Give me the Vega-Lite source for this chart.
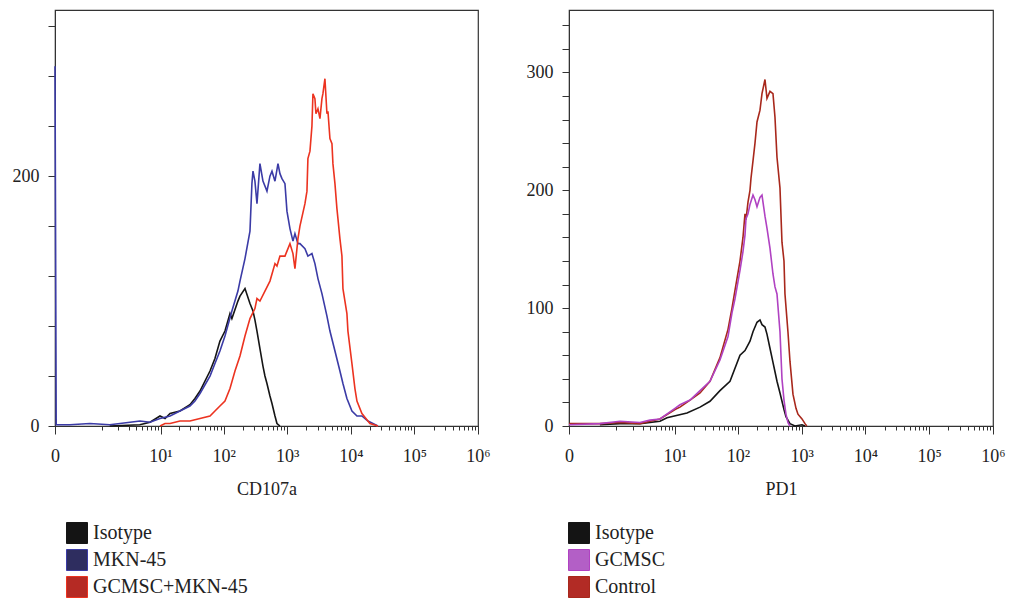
{
  "$schema": "https://vega.github.io/schema/vega-lite/v6.json",
  "padding": {"top": 9, "left": 11, "right": 0, "bottom": 0},
  "background": "white",
  "spacing": 34,
  "datasets": {
    "left": [
      {"s": "Isotype", "x": 1.4, "c": 0}, {"s": "Isotype", "x": 4.6, "c": 1}, {"s": "Isotype", "x": 6.75, "c": 3}, {"s": "Isotype", "x": 9.8, "c": 8}, {"s": "Isotype", "x": 11.8, "c": 6}, {"s": "Isotype", "x": 14.2, "c": 10}, {"s": "Isotype", "x": 20.4, "c": 12}, {"s": "Isotype", "x": 29.4, "c": 17}, {"s": "Isotype", "x": 35.3, "c": 22}, {"s": "Isotype", "x": 42.4, "c": 28}, {"s": "Isotype", "x": 61, "c": 44}, {"s": "Isotype", "x": 73, "c": 54}, {"s": "Isotype", "x": 87.5, "c": 68}, {"s": "Isotype", "x": 105, "c": 76}, {"s": "Isotype", "x": 126, "c": 90}, {"s": "Isotype", "x": 135, "c": 86}, {"s": "Isotype", "x": 168, "c": 100}, {"s": "Isotype", "x": 181, "c": 104}, {"s": "Isotype", "x": 217, "c": 110}, {"s": "Isotype", "x": 260, "c": 98}, {"s": "Isotype", "x": 290, "c": 92}, {"s": "Isotype", "x": 311, "c": 85}, {"s": "Isotype", "x": 335, "c": 76}, {"s": "Isotype", "x": 373, "c": 62}, {"s": "Isotype", "x": 416, "c": 48}, {"s": "Isotype", "x": 447, "c": 40}, {"s": "Isotype", "x": 481, "c": 34}, {"s": "Isotype", "x": 536, "c": 24}, {"s": "Isotype", "x": 577, "c": 18}, {"s": "Isotype", "x": 643, "c": 8}, {"s": "Isotype", "x": 691, "c": 2}, {"s": "Isotype", "x": 770, "c": 0},
      {"s": "MKN-45", "x": 0, "c": 288}, {"s": "MKN-45", "x": 0.01, "c": 1}, {"s": "MKN-45", "x": 0.16, "c": 1}, {"s": "MKN-45", "x": 0.57, "c": 2}, {"s": "MKN-45", "x": 1.4, "c": 1}, {"s": "MKN-45", "x": 2.13, "c": 2}, {"s": "MKN-45", "x": 4.63, "c": 4}, {"s": "MKN-45", "x": 6.75, "c": 3}, {"s": "MKN-45", "x": 9.8, "c": 6}, {"s": "MKN-45", "x": 14.2, "c": 8}, {"s": "MKN-45", "x": 20.4, "c": 12}, {"s": "MKN-45", "x": 29.4, "c": 16}, {"s": "MKN-45", "x": 35.3, "c": 20}, {"s": "MKN-45", "x": 42.4, "c": 26}, {"s": "MKN-45", "x": 61, "c": 40}, {"s": "MKN-45", "x": 73, "c": 50}, {"s": "MKN-45", "x": 87.5, "c": 60}, {"s": "MKN-45", "x": 105, "c": 72}, {"s": "MKN-45", "x": 135, "c": 92}, {"s": "MKN-45", "x": 168, "c": 108}, {"s": "MKN-45", "x": 181, "c": 116}, {"s": "MKN-45", "x": 217, "c": 134}, {"s": "MKN-45", "x": 260, "c": 156}, {"s": "MKN-45", "x": 279, "c": 194}, {"s": "MKN-45", "x": 290, "c": 204}, {"s": "MKN-45", "x": 311, "c": 196}, {"s": "MKN-45", "x": 335, "c": 178}, {"s": "MKN-45", "x": 373, "c": 210}, {"s": "MKN-45", "x": 416, "c": 196}, {"s": "MKN-45", "x": 481, "c": 188}, {"s": "MKN-45", "x": 536, "c": 200}, {"s": "MKN-45", "x": 577, "c": 204}, {"s": "MKN-45", "x": 643, "c": 196}, {"s": "MKN-45", "x": 717, "c": 210}, {"s": "MKN-45", "x": 770, "c": 202}, {"s": "MKN-45", "x": 828, "c": 198}, {"s": "MKN-45", "x": 923, "c": 194}, {"s": "MKN-45", "x": 992, "c": 172}, {"s": "MKN-45", "x": 1106, "c": 158}, {"s": "MKN-45", "x": 1233, "c": 148}, {"s": "MKN-45", "x": 1325, "c": 154}, {"s": "MKN-45", "x": 1477, "c": 146}, {"s": "MKN-45", "x": 1588, "c": 146}, {"s": "MKN-45", "x": 1903, "c": 142}, {"s": "MKN-45", "x": 2119, "c": 136}, {"s": "MKN-45", "x": 2451, "c": 138}, {"s": "MKN-45", "x": 2731, "c": 130}, {"s": "MKN-45", "x": 3048, "c": 118}, {"s": "MKN-45", "x": 3521, "c": 106}, {"s": "MKN-45", "x": 4220, "c": 88}, {"s": "MKN-45", "x": 4702, "c": 76}, {"s": "MKN-45", "x": 5638, "c": 60}, {"s": "MKN-45", "x": 6750, "c": 44}, {"s": "MKN-45", "x": 7529, "c": 34}, {"s": "MKN-45", "x": 8696, "c": 22}, {"s": "MKN-45", "x": 10430, "c": 12}, {"s": "MKN-45", "x": 12500, "c": 8}, {"s": "MKN-45", "x": 14970, "c": 8}, {"s": "MKN-45", "x": 18590, "c": 4}, {"s": "MKN-45", "x": 26720, "c": 0},
      {"s": "GCMSC+MKN-45", "x": 9.8, "c": 0}, {"s": "GCMSC+MKN-45", "x": 11.8, "c": 2}, {"s": "GCMSC+MKN-45", "x": 14.2, "c": 2}, {"s": "GCMSC+MKN-45", "x": 20.4, "c": 4}, {"s": "GCMSC+MKN-45", "x": 29.4, "c": 4}, {"s": "GCMSC+MKN-45", "x": 42.4, "c": 6}, {"s": "GCMSC+MKN-45", "x": 61, "c": 8}, {"s": "GCMSC+MKN-45", "x": 73, "c": 12}, {"s": "GCMSC+MKN-45", "x": 87.5, "c": 16}, {"s": "GCMSC+MKN-45", "x": 105, "c": 20}, {"s": "GCMSC+MKN-45", "x": 126, "c": 30}, {"s": "GCMSC+MKN-45", "x": 151, "c": 44}, {"s": "GCMSC+MKN-45", "x": 181, "c": 56}, {"s": "GCMSC+MKN-45", "x": 217, "c": 72}, {"s": "GCMSC+MKN-45", "x": 260, "c": 86}, {"s": "GCMSC+MKN-45", "x": 311, "c": 94}, {"s": "GCMSC+MKN-45", "x": 335, "c": 102}, {"s": "GCMSC+MKN-45", "x": 373, "c": 100}, {"s": "GCMSC+MKN-45", "x": 447, "c": 108}, {"s": "GCMSC+MKN-45", "x": 536, "c": 116}, {"s": "GCMSC+MKN-45", "x": 643, "c": 130}, {"s": "GCMSC+MKN-45", "x": 691, "c": 128}, {"s": "GCMSC+MKN-45", "x": 770, "c": 136}, {"s": "GCMSC+MKN-45", "x": 923, "c": 136}, {"s": "GCMSC+MKN-45", "x": 992, "c": 140}, {"s": "GCMSC+MKN-45", "x": 1106, "c": 146}, {"s": "GCMSC+MKN-45", "x": 1233, "c": 138}, {"s": "GCMSC+MKN-45", "x": 1325, "c": 126}, {"s": "GCMSC+MKN-45", "x": 1477, "c": 150}, {"s": "GCMSC+MKN-45", "x": 1588, "c": 160}, {"s": "GCMSC+MKN-45", "x": 1903, "c": 178}, {"s": "GCMSC+MKN-45", "x": 2047, "c": 188}, {"s": "GCMSC+MKN-45", "x": 2119, "c": 214}, {"s": "GCMSC+MKN-45", "x": 2282, "c": 220}, {"s": "GCMSC+MKN-45", "x": 2451, "c": 240}, {"s": "GCMSC+MKN-45", "x": 2542, "c": 266}, {"s": "GCMSC+MKN-45", "x": 2731, "c": 262}, {"s": "GCMSC+MKN-45", "x": 2834, "c": 250}, {"s": "GCMSC+MKN-45", "x": 3048, "c": 254}, {"s": "GCMSC+MKN-45", "x": 3275, "c": 246}, {"s": "GCMSC+MKN-45", "x": 3521, "c": 262}, {"s": "GCMSC+MKN-45", "x": 3649, "c": 266}, {"s": "GCMSC+MKN-45", "x": 3924, "c": 278}, {"s": "GCMSC+MKN-45", "x": 4220, "c": 250}, {"s": "GCMSC+MKN-45", "x": 4375, "c": 252}, {"s": "GCMSC+MKN-45", "x": 4702, "c": 230}, {"s": "GCMSC+MKN-45", "x": 5060, "c": 226}, {"s": "GCMSC+MKN-45", "x": 5240, "c": 210}, {"s": "GCMSC+MKN-45", "x": 5638, "c": 194}, {"s": "GCMSC+MKN-45", "x": 6057, "c": 174}, {"s": "GCMSC+MKN-45", "x": 6283, "c": 166}, {"s": "GCMSC+MKN-45", "x": 6750, "c": 150}, {"s": "GCMSC+MKN-45", "x": 7262, "c": 136}, {"s": "GCMSC+MKN-45", "x": 7529, "c": 110}, {"s": "GCMSC+MKN-45", "x": 8696, "c": 90}, {"s": "GCMSC+MKN-45", "x": 9020, "c": 76}, {"s": "GCMSC+MKN-45", "x": 10430, "c": 50}, {"s": "GCMSC+MKN-45", "x": 11620, "c": 30}, {"s": "GCMSC+MKN-45", "x": 12500, "c": 20}, {"s": "GCMSC+MKN-45", "x": 14970, "c": 10}, {"s": "GCMSC+MKN-45", "x": 18590, "c": 4}, {"s": "GCMSC+MKN-45", "x": 20000, "c": 2}, {"s": "GCMSC+MKN-45", "x": 26720, "c": 0}
    ],
    "right": [
      {"s": "Isotype", "x": 0.46, "c": 1}, {"s": "Isotype", "x": 1.19, "c": 2}, {"s": "Isotype", "x": 2.68, "c": 2}, {"s": "Isotype", "x": 5.76, "c": 4}, {"s": "Isotype", "x": 7.49, "c": 7}, {"s": "Isotype", "x": 15.65, "c": 11}, {"s": "Isotype", "x": 25.2, "c": 16}, {"s": "Isotype", "x": 36.2, "c": 21}, {"s": "Isotype", "x": 52, "c": 30}, {"s": "Isotype", "x": 74.8, "c": 38}, {"s": "Isotype", "x": 107.4, "c": 60}, {"s": "Isotype", "x": 128.7, "c": 64}, {"s": "Isotype", "x": 154.2, "c": 72}, {"s": "Isotype", "x": 171.9, "c": 80}, {"s": "Isotype", "x": 198.7, "c": 88}, {"s": "Isotype", "x": 221.4, "c": 90}, {"s": "Isotype", "x": 238, "c": 86}, {"s": "Isotype", "x": 265.2, "c": 84}, {"s": "Isotype", "x": 285, "c": 78}, {"s": "Isotype", "x": 317.6, "c": 66}, {"s": "Isotype", "x": 354, "c": 54}, {"s": "Isotype", "x": 380.6, "c": 46}, {"s": "Isotype", "x": 409.2, "c": 38}, {"s": "Isotype", "x": 456, "c": 28}, {"s": "Isotype", "x": 527, "c": 14}, {"s": "Isotype", "x": 566, "c": 8}, {"s": "Isotype", "x": 654, "c": 2}, {"s": "Isotype", "x": 784, "c": 0}, {"s": "Isotype", "x": 1010, "c": 1}, {"s": "Isotype", "x": 1125, "c": 0},
      {"s": "Control", "x": 0, "c": 2}, {"s": "Control", "x": 0.46, "c": 2}, {"s": "Control", "x": 1.19, "c": 3}, {"s": "Control", "x": 2.68, "c": 2}, {"s": "Control", "x": 3.95, "c": 4}, {"s": "Control", "x": 5.76, "c": 6}, {"s": "Control", "x": 10.07, "c": 14}, {"s": "Control", "x": 12.1, "c": 16}, {"s": "Control", "x": 17.5, "c": 22}, {"s": "Control", "x": 25.2, "c": 28}, {"s": "Control", "x": 36.2, "c": 38}, {"s": "Control", "x": 52, "c": 58}, {"s": "Control", "x": 69.6, "c": 82}, {"s": "Control", "x": 80.4, "c": 100}, {"s": "Control", "x": 89.6, "c": 115}, {"s": "Control", "x": 107.4, "c": 140}, {"s": "Control", "x": 119.7, "c": 160}, {"s": "Control", "x": 128.7, "c": 180}, {"s": "Control", "x": 133.4, "c": 175}, {"s": "Control", "x": 143.5, "c": 190}, {"s": "Control", "x": 154.2, "c": 200}, {"s": "Control", "x": 159.8, "c": 210}, {"s": "Control", "x": 171.9, "c": 225}, {"s": "Control", "x": 184.8, "c": 240}, {"s": "Control", "x": 198.7, "c": 258}, {"s": "Control", "x": 221.4, "c": 268}, {"s": "Control", "x": 238, "c": 282}, {"s": "Control", "x": 265.2, "c": 294}, {"s": "Control", "x": 285, "c": 278}, {"s": "Control", "x": 317.6, "c": 284}, {"s": "Control", "x": 354, "c": 282}, {"s": "Control", "x": 380.6, "c": 262}, {"s": "Control", "x": 409.2, "c": 228}, {"s": "Control", "x": 456, "c": 202}, {"s": "Control", "x": 490, "c": 156}, {"s": "Control", "x": 527, "c": 140}, {"s": "Control", "x": 546, "c": 112}, {"s": "Control", "x": 608, "c": 80}, {"s": "Control", "x": 654, "c": 55}, {"s": "Control", "x": 729, "c": 27}, {"s": "Control", "x": 813, "c": 15}, {"s": "Control", "x": 873, "c": 10}, {"s": "Control", "x": 1010, "c": 6}, {"s": "Control", "x": 1125, "c": 2}, {"s": "Control", "x": 1200, "c": 0},
      {"s": "GCMSC", "x": 0, "c": 1}, {"s": "GCMSC", "x": 0.46, "c": 2}, {"s": "GCMSC", "x": 1.19, "c": 4}, {"s": "GCMSC", "x": 2.68, "c": 3}, {"s": "GCMSC", "x": 3.95, "c": 5}, {"s": "GCMSC", "x": 5.76, "c": 6}, {"s": "GCMSC", "x": 10.07, "c": 15}, {"s": "GCMSC", "x": 12.1, "c": 18}, {"s": "GCMSC", "x": 17.5, "c": 22}, {"s": "GCMSC", "x": 25.2, "c": 30}, {"s": "GCMSC", "x": 36.2, "c": 38}, {"s": "GCMSC", "x": 52, "c": 56}, {"s": "GCMSC", "x": 69.6, "c": 76}, {"s": "GCMSC", "x": 80.4, "c": 96}, {"s": "GCMSC", "x": 89.6, "c": 108}, {"s": "GCMSC", "x": 107.4, "c": 132}, {"s": "GCMSC", "x": 119.7, "c": 148}, {"s": "GCMSC", "x": 128.7, "c": 162}, {"s": "GCMSC", "x": 133.4, "c": 176}, {"s": "GCMSC", "x": 143.5, "c": 180}, {"s": "GCMSC", "x": 154.2, "c": 188}, {"s": "GCMSC", "x": 171.9, "c": 196}, {"s": "GCMSC", "x": 184.8, "c": 192}, {"s": "GCMSC", "x": 198.7, "c": 186}, {"s": "GCMSC", "x": 221.4, "c": 194}, {"s": "GCMSC", "x": 238, "c": 196}, {"s": "GCMSC", "x": 265.2, "c": 178}, {"s": "GCMSC", "x": 285, "c": 168}, {"s": "GCMSC", "x": 317.6, "c": 151}, {"s": "GCMSC", "x": 354, "c": 129}, {"s": "GCMSC", "x": 380.6, "c": 118}, {"s": "GCMSC", "x": 409.2, "c": 112}, {"s": "GCMSC", "x": 456, "c": 80}, {"s": "GCMSC", "x": 490, "c": 40}, {"s": "GCMSC", "x": 527, "c": 22}, {"s": "GCMSC", "x": 566, "c": 10}, {"s": "GCMSC", "x": 608, "c": 3}, {"s": "GCMSC", "x": 654, "c": 0}
    ]
  },
  "hconcat": [
    {
      "width": 423,
      "height": 416,
      "data": {"name": "left"},
      "mark": {"type": "line", "strokeWidth": 1.6},
      "encoding": {
        "x": {
          "field": "x", "type": "quantitative",
          "scale": {"type": "symlog", "constant": 0.224, "domain": [0, 1000000], "nice": false, "zero": false},
          "axis": {
            "title": "CD107a",
            "values": [0,1,2,3,4,5,6,7,8,9,10,20,30,40,50,60,70,80,90,100,200,300,400,500,600,700,800,900,1000,2000,3000,4000,5000,6000,7000,8000,9000,10000,20000,30000,40000,50000,60000,70000,80000,90000,100000,200000,300000,400000,500000,600000,700000,800000,900000,1000000],
            "tickSize": {"condition": {"test": "indexof([0,10,100,1000,10000,100000,1000000], datum.value) >= 0", "value": 8}, "value": 4},
            "labelExpr": "datum.value == 0 ? '0' : datum.value == 10 ? '10¹' : datum.value == 100 ? '10²' : datum.value == 1000 ? '10³' : datum.value == 10000 ? '10⁴' : datum.value == 100000 ? '10⁵' : datum.value == 1000000 ? '10⁶' : ''",
            "labelOverlap": false,
            "labelFlush": false,
            "labelPadding": 13,
            "titlePadding": 15
          }
        },
        "y": {
          "field": "c", "type": "quantitative",
          "scale": {"domain": [0, 333], "nice": false},
          "axis": {
            "title": null,
            "values": [0,40,80,120,160,200,240,280,320],
            "labelExpr": "datum.value == 0 || datum.value == 200 ? datum.label : ''",
            "tickSize": 7,
            "labelPadding": 9
          }
        },
        "color": {
          "field": "s", "type": "nominal",
          "scale": {"domain": ["Isotype", "MKN-45", "GCMSC+MKN-45"], "range": ["#151515", "#3b3ba6", "#ec3320"]},
          "legend": {
            "orient": "none", "legendX": 11, "legendY": 512, "title": null,
            "symbolType": "square", "symbolSize": 441,
            "labelFontSize": 20, "labelOffset": 5, "rowPadding": 1,
            "encode": {"symbols": {"update": {
              "fill": {"signal": "datum.value == 'MKN-45' ? '#2e2d5f' : datum.value == 'GCMSC+MKN-45' ? '#b52a24' : '#141414'"},
              "fillOpacity": {"value": 1},
              "stroke": {"value": "#333333"},
              "strokeWidth": {"value": 1}
            }}}
          }
        }
      }
    },
    {
      "width": 424,
      "height": 416,
      "data": {"name": "right"},
      "mark": {"type": "line", "strokeWidth": 1.6},
      "encoding": {
        "x": {
          "field": "x", "type": "quantitative",
          "scale": {"type": "symlog", "constant": 0.224, "domain": [0, 1000000], "nice": false, "zero": false},
          "axis": {
            "title": "PD1",
            "values": [0,1,2,3,4,5,6,7,8,9,10,20,30,40,50,60,70,80,90,100,200,300,400,500,600,700,800,900,1000,2000,3000,4000,5000,6000,7000,8000,9000,10000,20000,30000,40000,50000,60000,70000,80000,90000,100000,200000,300000,400000,500000,600000,700000,800000,900000,1000000],
            "tickSize": {"condition": {"test": "indexof([0,10,100,1000,10000,100000,1000000], datum.value) >= 0", "value": 8}, "value": 4},
            "labelExpr": "datum.value == 0 ? '0' : datum.value == 10 ? '10¹' : datum.value == 100 ? '10²' : datum.value == 1000 ? '10³' : datum.value == 10000 ? '10⁴' : datum.value == 100000 ? '10⁵' : datum.value == 1000000 ? '10⁶' : ''",
            "labelOverlap": false,
            "labelFlush": false,
            "labelPadding": 13,
            "titlePadding": 15
          }
        },
        "y": {
          "field": "c", "type": "quantitative",
          "scale": {"domain": [0, 353], "nice": false},
          "axis": {
            "title": null,
            "values": [0,20,40,60,80,100,120,140,160,180,200,220,240,260,280,300,320,340],
            "labelExpr": "datum.value % 100 == 0 ? datum.label : ''",
            "tickSize": 7,
            "labelPadding": 9
          }
        },
        "color": {
          "field": "s", "type": "nominal",
          "scale": {"domain": ["Isotype", "GCMSC", "Control"], "range": ["#151515", "#b042c2", "#a8281c"]},
          "legend": {
            "orient": "none", "legendX": -1, "legendY": 512, "title": null,
            "symbolType": "square", "symbolSize": 441,
            "labelFontSize": 20, "labelOffset": 5, "rowPadding": 1,
            "encode": {"symbols": {"update": {
              "fill": {"signal": "datum.value == 'GCMSC' ? '#b35fc6' : datum.value == 'Control' ? '#b22b25' : '#141414'"},
              "fillOpacity": {"value": 1},
              "stroke": {"value": "#333333"},
              "strokeWidth": {"value": 1}
            }}}
          }
        }
      }
    }
  ],
  "resolve": {"scale": {"x": "independent", "y": "independent", "color": "independent"}, "legend": {"color": "independent"}},
  "config": {
    "view": {"stroke": "#333333", "strokeWidth": 1.2},
    "axis": {
      "grid": false,
      "domainColor": "#333333",
      "tickColor": "#333333",
      "labelFont": "Liberation Serif",
      "labelFontSize": 18,
      "labelColor": "#222222",
      "titleFont": "Liberation Serif",
      "titleFontSize": 18,
      "titleFontWeight": "normal",
      "titleColor": "#222222"
    },
    "legend": {
      "labelFont": "Liberation Serif",
      "labelColor": "#222222",
      "labelLimit": 400
    }
  }
}
